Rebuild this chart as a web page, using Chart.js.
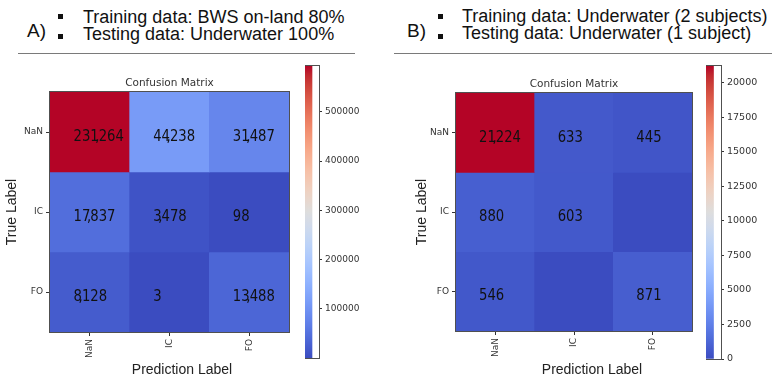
<!DOCTYPE html>
<html><head><meta charset="utf-8">
<script src="https://cdn.jsdelivr.net/npm/chart.js@4.4.1/dist/chart.umd.min.js"></script>
<style>
html,body{margin:0;padding:0;background:#fff;}
body{width:777px;height:381px;position:relative;overflow:hidden;font-family:"Liberation Sans",Arial,sans-serif;color:#111;}
.abs{position:absolute;white-space:nowrap;}
.hdr{font-size:18px;line-height:18px;}
.lbl{font-size:19px;line-height:19px;}
.bul{position:absolute;width:5px;height:5px;background:#111;}
.sep{position:absolute;height:1px;background:#7a7a7a;}
canvas{display:block;position:absolute;}
</style></head>
<body>
<div class="abs lbl" style="left:27px;top:20.5px">A)</div>
<div class="bul" style="left:57.5px;top:13.5px"></div>
<div class="bul" style="left:57.5px;top:33.5px"></div>
<div class="abs hdr" style="left:83px;top:8px">Training data: BWS on-land 80%</div>
<div class="abs hdr" style="left:83px;top:24.5px">Testing data: Underwater 100%</div>
<div class="sep" style="left:18px;top:53px;width:337px"></div>

<div class="abs lbl" style="left:407px;top:20.5px">B)</div>
<div class="bul" style="left:437.7px;top:13.5px"></div>
<div class="bul" style="left:437.7px;top:33.5px"></div>
<div class="abs hdr" style="left:462px;top:7px">Training data: Underwater (2 subjects)</div>
<div class="abs hdr" style="left:462px;top:24px">Testing data: Underwater (1 subject)</div>
<div class="sep" style="left:394px;top:53px;width:378px"></div>

<canvas id="mA" width="300" height="381" style="left:0;top:0"></canvas>
<canvas id="cA" width="64" height="381" style="left:305px;top:0"></canvas>
<canvas id="mB" width="296" height="381" style="left:406px;top:0"></canvas>
<canvas id="cB" width="65" height="381" style="left:706px;top:0"></canvas>

<script>
// ---------------- data ----------------
const categories = ['NaN', 'IC', 'FO'];
// rows = true label, columns = prediction label
const matrixA = [
  [231264, 44238, 31487],
  [17837, 3478, 98],
  [8128, 3, 13488]
];
const matrixB = [
  [21224, 633, 445],
  [880, 603, 0],
  [546, 0, 871]
];
const colorbarRangeA = [3, 593000];
const colorbarTicksA = [100000, 200000, 300000, 400000, 500000];
const colorbarRangeB = [0, 21224];
const colorbarTicksB = [0, 2500, 5000, 7500, 10000, 12500, 15000, 17500, 20000];

// ---------------- colormap (coolwarm) ----------------
const CW = [
[59,76,192],[68,90,204],[77,104,215],[87,117,225],[98,130,234],[108,142,241],[119,154,247],[130,165,251],
[141,176,254],[152,185,255],[163,194,255],[174,201,253],[184,208,249],[194,213,244],[204,217,238],[213,219,230],
[221,221,221],[229,216,209],[236,211,197],[241,204,185],[245,196,173],[247,187,160],[247,177,148],[247,166,135],
[244,154,123],[241,141,111],[236,127,99],[229,112,88],[222,96,77],[213,80,66],[203,62,56],[192,40,47],[180,4,38]];
function coolwarm(t){
  t = Math.max(0, Math.min(1, t));
  const p = t * (CW.length - 1), i = Math.min(CW.length - 2, Math.floor(p)), f = p - i;
  const c = CW[i].map((v, k) => Math.round(v + (CW[i + 1][k] - v) * f));
  return `rgb(${c[0]},${c[1]},${c[2]})`;
}

function drawNum(ctx, s, x, y){
  ctx.save();
  ctx.translate(x, y);
  ctx.scale(0.8, 1);
  ctx.font = '16.5px "DejaVu Sans"';
  ctx.fillStyle = '#111';
  ctx.textBaseline = 'alphabetic';
  ctx.textAlign = 'left';
  let cx = 0;
  for (const ch of s){
    if (ch === ','){ ctx.fillText(',', cx - ctx.measureText(',').width * 0.8, 0); continue; }
    ctx.fillText(ch, cx, 0);
    cx += ctx.measureText(ch).width;
  }
  ctx.restore();
}

const matrixDecor = {
  id: 'matrixDecor',
  afterDatasetsDraw(chart, args, opts){
    const ctx = chart.ctx, a = chart.chartArea;
    chart.data.datasets.forEach((ds, r) => {
      const meta = chart.getDatasetMeta(r);
      meta.data.forEach((bar, c) => {
        const v = ds.values[c];
        if (!v) return;
        const left = bar.x - bar.width / 2;
        const cy = (bar.y + bar.base) / 2;
        drawNum(ctx, v.toLocaleString('en-US'), left + opts.textOffset, cy + 9);
      });
    });
    ctx.save();
    ctx.strokeStyle = '#505050';
    ctx.lineWidth = 1;
    ctx.strokeRect(Math.round(a.left) - 0.5, Math.round(a.top) - 0.5, Math.round(a.right - a.left) + 1, Math.round(a.bottom - a.top) + 1);
    // title
    ctx.fillStyle = '#333';
    ctx.font = '10.5px "DejaVu Sans"';
    ctx.textAlign = 'center';
    ctx.textBaseline = 'middle';
    ctx.fillText('Confusion Matrix', (a.left + a.right) / 2, a.top - 9);
    // axis titles
    ctx.fillStyle = '#222';
    ctx.font = '14px "Liberation Sans", Arial, sans-serif';
    ctx.fillText('Prediction Label', (a.left + a.right) / 2 + opts.xTitleShift, 370);
    ctx.save();
    ctx.translate(a.left - opts.yTitleGap, (a.top + a.bottom) / 2);
    ctx.rotate(-Math.PI / 2);
    ctx.fillText('True Label', 0, 0);
    ctx.restore();
    ctx.restore();
  }
};

function makeMatrix(id, matrix, pad, xH, opts){
  const flat = matrix.flat();
  const vmin = Math.min(...flat), vmax = Math.max(...flat);
  const datasets = matrix.map((row, r) => ({
    label: categories[r],
    values: row,
    data: row.map(() => [r, r + 1]),
    backgroundColor: row.map(v => coolwarm((v - vmin) / (vmax - vmin))),
    borderWidth: 0,
    barPercentage: 1,
    categoryPercentage: 1
  }));
  return new Chart(document.getElementById(id), {
    type: 'bar',
    data: { labels: categories, datasets },
    plugins: [matrixDecor],
    options: {
      responsive: false, animation: false, devicePixelRatio: 1,
      layout: { padding: pad },
      plugins: { legend: { display: false }, tooltip: { enabled: false }, matrixDecor: opts },
      scales: {
        x: {
          stacked: true, offset: true,
          afterFit(s){ s.height = xH; },
          ticks: { minRotation: 90, maxRotation: 90, font: { family: 'DejaVu Sans', size: 9 }, color: '#333', padding: 3 },
          grid: { offset: false, drawOnChartArea: false, drawTicks: true, tickLength: 4, color: '#333', tickColor: '#333' },
          border: { display: false }
        },
        y: {
          type: 'linear', min: 0, max: 3, reverse: true,
          afterBuildTicks(s){ s.ticks = categories.map((_, i) => ({ value: i + 0.5 })); },
          afterFit(s){ s.width = 50; },
          ticks: { callback: (v) => categories[Math.round(v - 0.5)], font: { family: 'DejaVu Sans', size: 9 }, color: '#333', padding: 3 },
          grid: { drawOnChartArea: false, drawTicks: true, tickLength: 4, color: '#333', tickColor: '#333' },
          border: { display: false }
        }
      }
    }
  });
}

const cbBorder = {
  id: 'cbBorder',
  afterDatasetsDraw(chart){
    const ctx = chart.ctx, a = chart.chartArea;
    ctx.save();
    ctx.strokeStyle = '#505050';
    ctx.lineWidth = 1;
    ctx.strokeRect(Math.round(a.left) - 0.5, Math.round(a.top) - 0.5, Math.round(a.right - a.left) + 1, Math.round(a.bottom - a.top) + 1);
    ctx.restore();
  }
};

function makeColorbar(id, range, ticks, pad, fontSize){
  return new Chart(document.getElementById(id), {
    type: 'bar',
    data: { labels: [''], datasets: [{
      data: [[range[0], range[1]]],
      backgroundColor: (c) => {
        const ch = c.chart, a = ch.chartArea;
        if (!a) return '#888';
        const g = ch.ctx.createLinearGradient(0, a.bottom, 0, a.top);
        for (let i = 0; i <= 64; i++) g.addColorStop(i / 64, coolwarm(i / 64));
        return g;
      },
      borderWidth: 0, barPercentage: 1, categoryPercentage: 1
    }]},
    plugins: [cbBorder],
    options: {
      responsive: false, animation: false, devicePixelRatio: 1,
      layout: { padding: pad },
      plugins: { legend: { display: false }, tooltip: { enabled: false } },
      scales: {
        x: { display: false, offset: false },
        y: {
          position: 'right', min: range[0], max: range[1],
          afterBuildTicks(s){ s.ticks = ticks.map(v => ({ value: v })); },
          afterFit(s){ s.width = 49; },
          ticks: { callback: (v) => String(v), font: { family: 'DejaVu Sans', size: fontSize }, color: '#333', padding: 3 },
          grid: { drawOnChartArea: false, drawTicks: true, tickLength: 3, color: '#333', tickColor: '#333' },
          border: { display: false }
        }
      }
    }
  });
}

makeMatrix('mA', matrixA, { top: 92, left: 0, right: 11, bottom: 0 }, 49, { textOffset: 23.5, xTitleShift: 12.5, yTitleGap: 38 });
makeMatrix('mB', matrixB, { top: 93, left: 0, right: 10, bottom: 0 }, 50, { textOffset: 23, xTitleShift: 18, yTitleGap: 34 });
makeColorbar('cA', colorbarRangeA, colorbarTicksA, { top: 66, bottom: 23, left: 0, right: 1 }, 9);
makeColorbar('cB', colorbarRangeB, colorbarTicksB, { top: 66, bottom: 22, left: 0, right: 1 }, 9.5);
</script>
</body></html>
